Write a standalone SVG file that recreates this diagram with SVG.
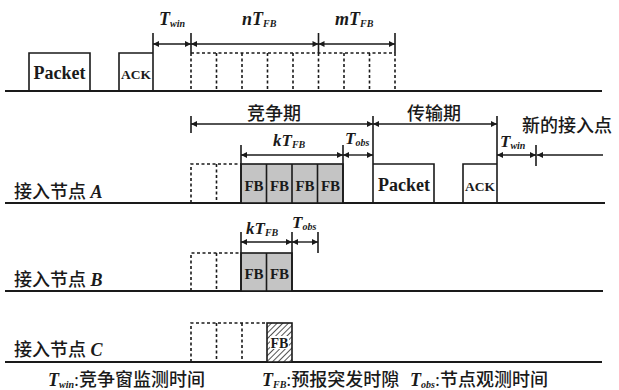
<svg xmlns="http://www.w3.org/2000/svg" width="619" height="390" viewBox="0 0 619 390">
<style>
.base{stroke:#1a1a1a;stroke-width:2;fill:none}
.box{stroke:#1a1a1a;stroke-width:1.6;fill:none}
.dash{stroke:#1a1a1a;stroke-width:1.6;fill:none;stroke-dasharray:3,2.5}
.fb{fill:#c4c4c4;stroke:#1a1a1a;stroke-width:1.6}
.dim{stroke:#1a1a1a;stroke-width:1.4;fill:none;marker-start:url(#ah);marker-end:url(#ah)}
.lat{font-family:"Liberation Serif","Times New Roman",serif;font-weight:bold;fill:#1a1a1a}
.it{font-family:"Liberation Serif","Times New Roman",serif;font-weight:bold;font-style:italic;fill:#1a1a1a}
.cn{font-family:"Liberation Serif","Noto Sans CJK SC",serif;font-weight:500;fill:#1a1a1a}
.sub{font-size:10px}
</style>
<defs>
<marker id="ah" viewBox="0 0 10 10" refX="10" refY="5" markerWidth="8" markerHeight="6" markerUnits="userSpaceOnUse" orient="auto-start-reverse">
<path d="M0,0 L10,5 L0,10 z" fill="#1a1a1a"/>
</marker>
<pattern id="hatch" width="4" height="4" patternUnits="userSpaceOnUse" patternTransform="rotate(45)">
<rect width="4" height="4" fill="#fff"/>
<line x1="0" y1="0" x2="0" y2="4" stroke="#1a1a1a" stroke-width="1.5"/>
</pattern>
</defs>

<g id="timeline-top">
<line class="base" x1="5" y1="91" x2="602" y2="91"/>
<path class="box" d="M29,91 V53 H90 V91"/>
<text class="lat" x="59.5" y="79" font-size="18" text-anchor="middle">Packet</text>
<path class="box" d="M119,91 V53 H153"/>
<text class="lat" x="136" y="79" font-size="13.5" text-anchor="middle">ACK</text>
<line class="box" x1="153" y1="33" x2="153" y2="91"/>
<line class="box" x1="191" y1="33" x2="191" y2="53"/>
<line class="box" x1="318.5" y1="33" x2="318.5" y2="53"/>
<line class="box" x1="395" y1="33" x2="395" y2="53"/>
<path class="dash" d="M191,53 H395 M191,53 V91 M216.5,53 V91 M242,53 V91 M267.5,53 V91 M293,53 V91 M318.5,53 V91 M344,53 V91 M369.5,53 V91 M395,53 V91"/>
<text class="it" x="159" y="25" font-size="18">T<tspan class="sub" dy="2">win</tspan></text>
<text class="it" x="242" y="25" font-size="18">nT<tspan class="sub" dy="2">FB</tspan></text>
<text class="it" x="335" y="25" font-size="18">mT<tspan class="sub" dy="2">FB</tspan></text>
</g>

<g id="node-A">
<line class="base" x1="5" y1="203" x2="605" y2="203"/>
<text class="cn" x="14" y="198" font-size="18">接入节点 <tspan class="it">A</tspan></text>
<line class="box" x1="191" y1="116" x2="191" y2="133"/>
<path class="dash" d="M191,203 V164 H241 M216.5,164 V203"/>
<rect class="fb" x="241" y="164" width="102" height="39"/>
<path class="box" d="M266.5,164 V203 M292,164 V203 M317.5,164 V203"/>
<line class="box" x1="241" y1="145" x2="241" y2="203"/>
<line class="box" x1="343" y1="145" x2="343" y2="203"/>
<text class="lat" font-size="15" text-anchor="middle" y="191"><tspan x="254">FB</tspan><tspan x="279.5">FB</tspan><tspan x="305">FB</tspan><tspan x="330.5">FB</tspan></text>
<line class="box" x1="373" y1="116" x2="373" y2="203"/>
<path class="box" d="M373,164 H434 V203"/>
<text class="lat" x="404" y="191" font-size="18" text-anchor="middle">Packet</text>
<path class="box" d="M463,203 V164 H497"/>
<text class="lat" x="480" y="191" font-size="13.5" text-anchor="middle">ACK</text>
<line class="box" x1="497" y1="116" x2="497" y2="203"/>
<line class="box" x1="536" y1="145" x2="536" y2="166"/>
<text class="cn" x="274" y="120" font-size="18" text-anchor="middle">竞争期</text>
<text class="cn" x="434" y="120" font-size="18" text-anchor="middle">传输期</text>
<text class="cn" x="522" y="132" font-size="18">新的接入点</text>
<text class="it" x="273" y="146" font-size="17">kT<tspan class="sub" dy="2">FB</tspan></text>
<text class="it" x="345" y="144" font-size="17">T<tspan class="sub" dy="2">obs</tspan></text>
<text class="it" x="500" y="147" font-size="17">T<tspan class="sub" dy="2">win</tspan></text>
</g>

<g id="node-B">
<line class="base" x1="5" y1="291" x2="603" y2="291"/>
<text class="cn" x="14" y="286" font-size="18">接入节点 <tspan class="it">B</tspan></text>
<path class="dash" d="M191,291 V253 H241 M216.5,253 V291"/>
<rect class="fb" x="241" y="253" width="51" height="38"/>
<line class="box" x1="266.5" y1="253" x2="266.5" y2="291"/>
<line class="box" x1="241" y1="232" x2="241" y2="291"/>
<line class="box" x1="292" y1="232" x2="292" y2="291"/>
<line class="box" x1="318" y1="232" x2="318" y2="253"/>
<text class="lat" font-size="15" text-anchor="middle" y="279"><tspan x="254">FB</tspan><tspan x="279.5">FB</tspan></text>
<text class="it" x="246" y="234" font-size="17">kT<tspan class="sub" dy="2">FB</tspan></text>
<text class="it" x="292" y="228" font-size="17">T<tspan class="sub" dy="2">obs</tspan></text>
</g>

<g id="node-C">
<line class="base" x1="5" y1="362" x2="602" y2="362"/>
<text class="cn" x="14" y="356" font-size="18">接入节点 <tspan class="it">C</tspan></text>
<path class="dash" d="M191,362 V323 H267 M216.5,323 V362 M242,323 V362"/>
<rect x="267" y="323" width="25" height="39" fill="url(#hatch)" stroke="#1a1a1a" stroke-width="1.6"/>
<rect x="270" y="336" width="19" height="13" fill="#fff"/>
<text class="lat" x="279.5" y="348" font-size="14" text-anchor="middle">FB</text>
</g>

<g id="connectors">
<line class="dim" x1="153" y1="44" x2="191" y2="44"/>
<line class="dim" x1="191" y1="44" x2="318.5" y2="44"/>
<line class="dim" x1="318.5" y1="44" x2="395" y2="44"/>
<line class="dim" x1="191" y1="124" x2="373" y2="124"/>
<line class="dim" x1="373" y1="124" x2="497" y2="124"/>
<line class="dim" x1="241" y1="155" x2="343" y2="155"/>
<line class="dim" x1="343" y1="155" x2="373" y2="155"/>
<line class="dim" x1="497" y1="155" x2="536" y2="155"/>
<line class="box" x1="603" y1="155" x2="537" y2="155" style="marker-end:url(#ah)"/>
<line class="dim" x1="241" y1="242" x2="292" y2="242"/>
<line class="dim" x1="292" y1="242" x2="318" y2="242"/>
</g>

<g id="legend">
<text class="cn" x="48" y="386" font-size="18"><tspan class="it">T<tspan class="sub" dy="2">win</tspan></tspan><tspan dy="-2">:竞争窗监测时间</tspan></text>
<text class="cn" x="262" y="386" font-size="18"><tspan class="it">T<tspan class="sub" dy="2">FB</tspan></tspan><tspan dy="-2">:预报突发时隙</tspan></text>
<text class="cn" x="410" y="386" font-size="18"><tspan class="it">T<tspan class="sub" dy="2">obs</tspan></tspan><tspan dy="-2">:节点观测时间</tspan></text>
</g>
</svg>
